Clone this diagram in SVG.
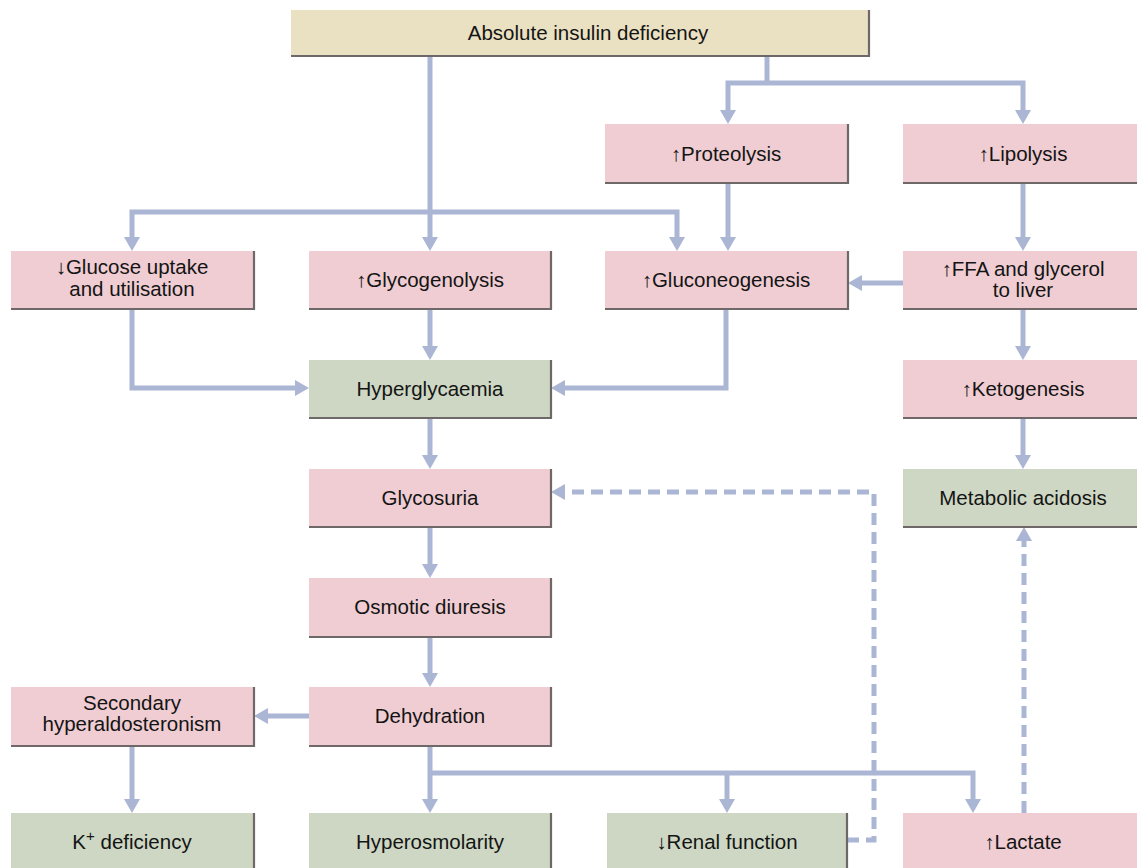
<svg xmlns="http://www.w3.org/2000/svg" width="1137" height="868" viewBox="0 0 1137 868">
<style>
.box{stroke:none}
.pink{fill:#efcdd3}
.green{fill:#cdd7c3}
.beige{fill:#eae0c2}
.edge{fill:none;stroke:#6f6868;stroke-width:2.2}
.t{font-family:"Liberation Sans",Arial,sans-serif;font-size:20.5px;fill:#141414;text-anchor:middle}
.c{fill:none;stroke:#aab6d3;stroke-width:5;stroke-linejoin:miter}
.d{fill:none;stroke:#aab6d3;stroke-width:5;stroke-dasharray:12 7}
</style>
<defs>
<marker id="ah" markerUnits="userSpaceOnUse" markerWidth="14" markerHeight="16" viewBox="0 0 14 16" refX="0" refY="8" orient="auto-start-reverse">
<path d="M0,0 L14,8 L0,16 z" fill="#aab6d3"/>
</marker>
</defs>
<rect width="1137" height="868" fill="#ffffff"/>

<g id="connectors">
<path class="c" d="M430,56 V237" marker-end="url(#ah)"/>
<path class="c" d="M132,237 V212 H677 V237" marker-start="url(#ah)" marker-end="url(#ah)"/>
<path class="c" d="M767,56 V83"/>
<path class="c" d="M728,110 V83 H1023 V110" marker-start="url(#ah)" marker-end="url(#ah)"/>
<path class="c" d="M728,183 V237" marker-end="url(#ah)"/>
<path class="c" d="M1023,183 V237" marker-end="url(#ah)"/>
<path class="c" d="M903,283 H862" marker-end="url(#ah)"/>
<path class="c" d="M1023,309 V346" marker-end="url(#ah)"/>
<path class="c" d="M1023,418 V455" marker-end="url(#ah)"/>
<path class="c" d="M132,309 V388 H295" marker-end="url(#ah)"/>
<path class="c" d="M430,309 V346" marker-end="url(#ah)"/>
<path class="c" d="M726,309 V388 H565" marker-end="url(#ah)"/>
<path class="c" d="M430,418 V455" marker-end="url(#ah)"/>
<path class="c" d="M430,527 V564" marker-end="url(#ah)"/>
<path class="c" d="M430,637 V673" marker-end="url(#ah)"/>
<path class="c" d="M309,716 H268" marker-end="url(#ah)"/>
<path class="c" d="M132,746 V799" marker-end="url(#ah)"/>
<path class="c" d="M430,746 V799" marker-end="url(#ah)"/>
<path class="c" d="M430,773 H973 V799" marker-end="url(#ah)"/>
<path class="c" d="M727,773 V799" marker-end="url(#ah)"/>
<path class="d" d="M847,840 H874 V492 H565" marker-end="url(#ah)"/>
<path class="d" d="M1024,813 V541" marker-end="url(#ah)"/>
</g>

<g id="n-absolute">
<rect class="box beige" x="291" y="10" width="578" height="46"/>
<path class="edge" d="M291,56 H869 V10"/>
<text class="t" x="588" y="40">Absolute insulin deficiency</text>
</g>

<g id="n-proteolysis">
<rect class="box pink" x="605" y="124" width="243" height="59"/>
<path class="edge" d="M605,183 H848 V124"/>
<text class="t" x="726" y="161">↑Proteolysis</text>
</g>

<g id="n-lipolysis">
<rect class="box pink" x="903" y="124" width="240" height="59"/>
<path class="edge" d="M903,183 H1143"/>
<text class="t" x="1023" y="161">↑Lipolysis</text>
</g>

<g id="n-glucose">
<rect class="box pink" x="11" y="251" width="243" height="58"/>
<path class="edge" d="M11,309 H254 V251"/>
<text class="t" x="132" y="274">↓Glucose uptake</text>
<text class="t" x="132" y="296">and utilisation</text>
</g>

<g id="n-glycogenolysis">
<rect class="box pink" x="309" y="251" width="242" height="58"/>
<path class="edge" d="M309,309 H551 V251"/>
<text class="t" x="430" y="287">↑Glycogenolysis</text>
</g>

<g id="n-gluconeogenesis">
<rect class="box pink" x="605" y="251" width="243" height="58"/>
<path class="edge" d="M605,309 H848 V251"/>
<text class="t" x="726" y="287">↑Gluconeogenesis</text>
</g>

<g id="n-ffa">
<rect class="box pink" x="903" y="251" width="240" height="58"/>
<path class="edge" d="M903,309 H1143"/>
<text class="t" x="1023" y="276">↑FFA and glycerol</text>
<text class="t" x="1023" y="297">to liver</text>
</g>

<g id="n-hyperglycaemia">
<rect class="box green" x="309" y="360" width="242" height="58"/>
<path class="edge" d="M309,418 H551 V360"/>
<text class="t" x="430" y="396">Hyperglycaemia</text>
</g>

<g id="n-ketogenesis">
<rect class="box pink" x="903" y="360" width="240" height="58"/>
<path class="edge" d="M903,418 H1143"/>
<text class="t" x="1023" y="396">↑Ketogenesis</text>
</g>

<g id="n-glycosuria">
<rect class="box pink" x="309" y="469" width="242" height="58"/>
<path class="edge" d="M309,527 H551 V469"/>
<text class="t" x="430" y="505">Glycosuria</text>
</g>

<g id="n-metabolic">
<rect class="box green" x="903" y="469" width="240" height="58"/>
<path class="edge" d="M903,527 H1143"/>
<text class="t" x="1023" y="505">Metabolic acidosis</text>
</g>

<g id="n-osmotic">
<rect class="box pink" x="309" y="578" width="242" height="59"/>
<path class="edge" d="M309,637 H551 V578"/>
<text class="t" x="430" y="614">Osmotic diuresis</text>
</g>

<g id="n-secondary">
<rect class="box pink" x="11" y="687" width="243" height="59"/>
<path class="edge" d="M11,746 H254 V687"/>
<text class="t" x="132" y="710">Secondary</text>
<text class="t" x="132" y="731">hyperaldosteronism</text>
</g>

<g id="n-dehydration">
<rect class="box pink" x="309" y="687" width="242" height="59"/>
<path class="edge" d="M309,746 H551 V687"/>
<text class="t" x="430" y="723">Dehydration</text>
</g>

<g id="n-kdef">
<rect class="box green" x="11" y="813" width="243" height="60"/>
<path class="edge" d="M254,873 V813"/>
<text class="t" x="132" y="849">K<tspan dy="-8" font-size="15">+</tspan><tspan dy="8"> deficiency</tspan></text>
</g>

<g id="n-hyperosmolarity">
<rect class="box green" x="309" y="813" width="242" height="60"/>
<path class="edge" d="M551,873 V813"/>
<text class="t" x="430" y="849">Hyperosmolarity</text>
</g>

<g id="n-renal">
<rect class="box green" x="607" y="813" width="240" height="60"/>
<path class="edge" d="M847,873 V813"/>
<text class="t" x="727" y="849">↓Renal function</text>
</g>

<g id="n-lactate">
<rect class="box pink" x="903" y="813" width="240" height="60"/>
<text class="t" x="1023" y="849">↑Lactate</text>
</g>
</svg>
